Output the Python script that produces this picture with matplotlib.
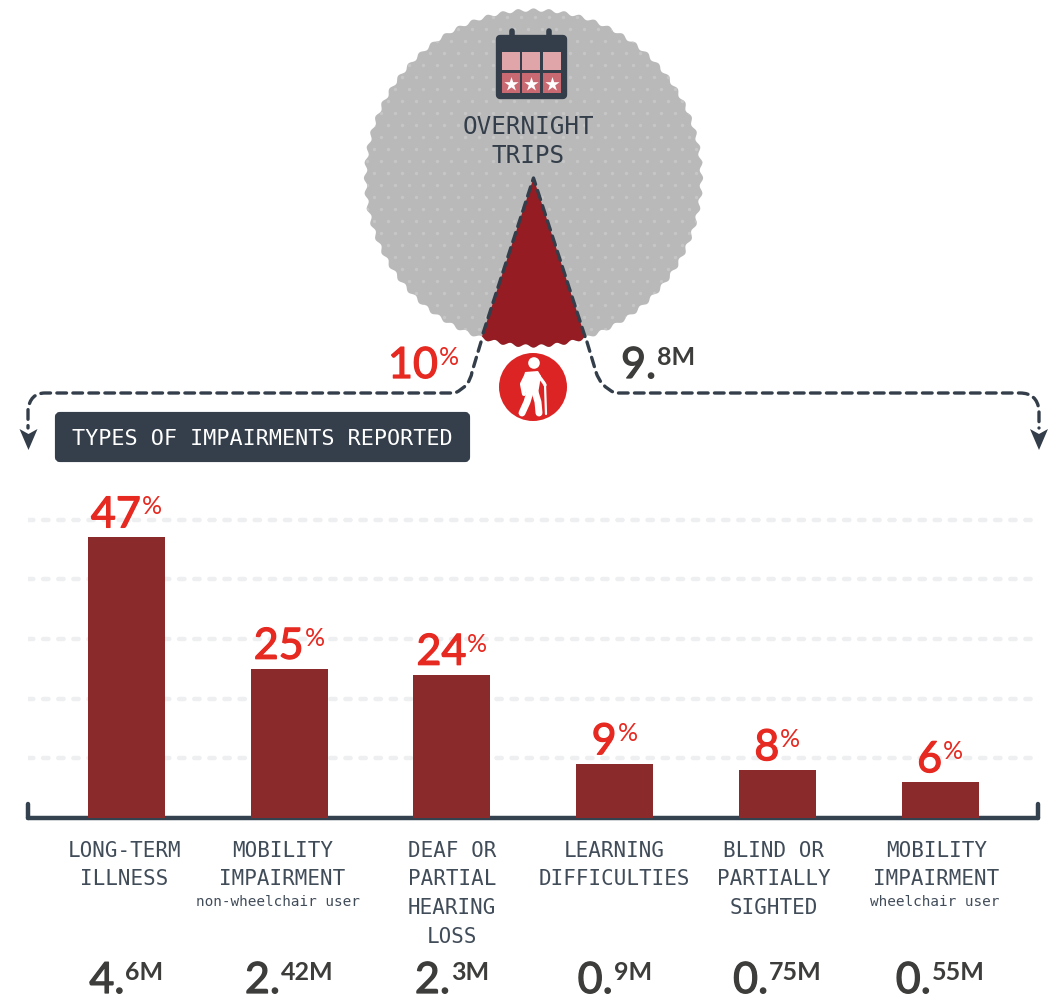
import numpy as np
import matplotlib
matplotlib.use('Agg')
import matplotlib.pyplot as plt
import matplotlib.patheffects as pe
from matplotlib.patches import Polygon, Circle, FancyBboxPatch, Rectangle, PathPatch
from matplotlib.path import Path

W, H = 1054, 996

# data
share = 10
share_m = ('9.', '8M')
categories = [
    ['LONG-TERM', 'ILLNESS'],
    ['MOBILITY', 'IMPAIRMENT'],
    ['DEAF OR', 'PARTIAL', 'HEARING', 'LOSS'],
    ['LEARNING', 'DIFFICULTIES'],
    ['BLIND OR', 'PARTIALLY', 'SIGHTED'],
    ['MOBILITY', 'IMPAIRMENT'],
]
sublabels = ['', 'non-wheelchair user', '', '', '', 'wheelchair user']
percents = [47, 25, 24, 9, 8, 6]
millions_big = ['4.', '2.', '2.', '0.', '0.', '0.']
millions_small = ['6M', '42M', '3M', '9M', '75M', '55M']
grid_ticks = [10, 20, 30, 40, 50]

# small sideways shifts of the label blocks
label_shift = [-2, -7, 0, 0, -4, -4]
sub_shift = [0, -11, 0, 0, 0, -5]

DARK = '#333e4a'
RED = '#e62a22'
BAR = '#8b2a2a'
WEDGE = '#951c22'
NUM = '#3d3d3b'
MONO = 'DejaVu Sans Mono'
NUMF = 'Lato'

fig = plt.figure(figsize=(W / 100, H / 100), dpi=100, facecolor='white')


def box(l, t, r, b):
    return [l / W, 1 - b / H, (r - l) / W, (b - t) / H]


# bar chart
ax = fig.add_axes(box(28, 500, 1037.5, 818))
x = np.arange(len(percents))
ax.bar(x, percents, width=0.473, color=BAR, zorder=3)
ax.set_xlim(-0.605, 5.598)
ax.set_ylim(0, 53.27)
ax.set_yticks(grid_ticks)
ax.set_xticks([])
ax.tick_params(left=False, labelleft=False)
ax.yaxis.grid(True, color='#eeeff0', lw=3.2, linestyle=(0, (1.2, 2.2)), dash_capstyle='round')
ax.set_axisbelow(True)
ax.patch.set_alpha(0)
ax.spines['top'].set_visible(False)
for s in ['left', 'right', 'bottom']:
    ax.spines[s].set_color('#34424f')
    ax.spines[s].set_linewidth(3.2)
    ax.spines[s].set_capstyle('round')
ax.spines['left'].set_bounds(0, 2.3)
ax.spines['right'].set_bounds(0, 2.3)

# overlay in pixel coordinates for the infographic parts
ov = fig.add_axes([0, 0, 1, 1])
ov.set_xlim(0, W)
ov.set_ylim(H, 0)
ov.axis('off')
ov.patch.set_alpha(0)

renderer = fig.canvas.get_renderer()


def thicken(t, color, w):
    t.set_path_effects([pe.withStroke(linewidth=w, foreground=color)])


def sup_text(x0, base, big, small, color, center=False, bigsize=31, smallsize=18, smallweight='bold'):
    # big figures with a raised small part after them
    t1 = ov.text(x0, base, big, fontsize=bigsize, color=color, family=NUMF,
                 ha='left', va='baseline', zorder=6)
    thicken(t1, color, 0.9)
    t2 = ov.text(x0, base - 13, small, fontsize=smallsize, color=color, family=NUMF, weight=smallweight,
                 ha='left', va='baseline', zorder=6)
    w1 = t1.get_window_extent(renderer).width
    w2 = t2.get_window_extent(renderer).width
    left = x0 - (w1 + w2 + 1) / 2 if center else x0
    t1.set_x(left)
    t2.set_x(left + w1 + 1)
    return t2


# scalloped circle
cx, cy, rad = 533.5, 178, 168
scallops = 68


def scallop(th):
    return rad + 1.6 * np.cos(scallops * th)


th = np.linspace(0, 2 * np.pi, 1500)
outline = np.column_stack([cx + scallop(th) * np.sin(th), cy - scallop(th) * np.cos(th)])
disc = Polygon(outline, closed=True, fc='#b9b9b9', ec='none', zorder=1)
ov.add_patch(disc)

gx, gy = np.meshgrid(np.arange(360, 710, 14), np.arange(5, 355, 12))
gx = gx + 7 * (np.round((gy - 5) / 12) % 2)
dots = ov.scatter(gx.ravel(), gy.ravel(), s=6, color='#c6c6c6', lw=0, zorder=2)
dots.set_clip_path(disc)

# wedge for the share, pointing down from the centre
half = np.deg2rad(share * 3.6 / 2)
a = np.linspace(np.pi - half, np.pi + half, 200)
arc = np.column_stack([cx + scallop(a) * np.sin(a), cy - scallop(a) * np.cos(a)])
ov.add_patch(Polygon(np.vstack([[cx, cy], arc]), closed=True, fc=WEDGE, ec='none', zorder=3))
dash = (0, (2.9, 1.9))
ov.plot([arc[0, 0], cx, arc[-1, 0]], [arc[0, 1], cy, arc[-1, 1]], color=DARK, lw=2.4,
        linestyle=dash, dash_capstyle='round', zorder=4)


def dashed(verts, codes):
    ov.add_patch(PathPatch(Path(verts, codes), fc='none', ec=DARK, lw=2.4, linestyle=dash,
                           capstyle='round', zorder=4))


M, L, C = Path.MOVETO, Path.LINETO, Path.CURVE3
dashed([(481, 342), (472, 372), (470, 386), (455, 393), (45, 393), (30, 393), (28, 410), (28, 428)],
       [M, L, C, C, L, C, C, L])
dashed([(587, 342), (596, 372), (600, 386), (615, 393), (1020, 393), (1037, 393), (1039, 410), (1039, 428)],
       [M, L, C, C, L, C, C, L])
for ax0 in [28.5, 1039]:
    ov.add_patch(Polygon([(ax0 - 9, 429), (ax0, 434), (ax0 + 9, 429), (ax0, 450)], closed=True,
                         fc=DARK, ec='none', zorder=4))

# calendar icon
ov.add_patch(FancyBboxPatch((500, 39), 63, 56, boxstyle='round,pad=0,rounding_size=0', fc=DARK, ec=DARK,
                            lw=6, joinstyle='round', zorder=4))
for px in [512, 549]:
    ov.plot([px, px], [31, 38], color=DARK, lw=4, solid_capstyle='round', zorder=4)
for cl, cr in [(502, 520), (522, 540), (543, 561)]:
    ov.add_patch(Rectangle((cl, 52), cr - cl, 18, fc='#e0a5a9', ec='none', zorder=5))
    ov.add_patch(Rectangle((cl, 73), cr - cl, 20, fc='#c96a72', ec='none', zorder=5))
    ov.scatter([(cl + cr) / 2], [83.5], marker='*', s=115, color='white', lw=0, zorder=6)

ov.text(528, 126.5, 'OVERNIGHT', family=MONO, fontsize=17.5, color=DARK, ha='center', va='center', zorder=6)
ov.text(528, 155.5, 'TRIPS', family=MONO, fontsize=17.5, color=DARK, ha='center', va='center', zorder=6)

# share labels
sup_text(388, 378, '10', '%', RED, smallweight='normal')
sup_text(621, 378, share_m[0], share_m[1], NUM)

# person badge
ov.add_patch(Circle((533, 387), 34, fc='#dd2424', ec='none', zorder=4))
ov.add_patch(Circle((534, 363), 5.8, fc='white', ec='none', zorder=5))
ov.add_patch(Polygon([(525, 372), (538, 371), (541, 376), (538, 394), (526, 394), (522, 384)], closed=True,
                     fc='white', ec='none', zorder=5))
for xs, ys, lw in [([526, 522, 524], [376, 384, 394], 3),
                   ([538, 544, 545], [375, 383, 385], 2.4),
                   ([530, 527, 522], [392, 402, 413], 5),
                   ([535, 538, 539], [392, 402, 413], 5),
                   ([545, 546], [384, 414], 1.6)]:
    ov.plot(xs, ys, color='white', lw=lw, solid_capstyle='round', zorder=5)

# banner
ov.add_patch(FancyBboxPatch((57, 414), 411, 46, boxstyle='round,pad=0,rounding_size=3', fc='#343f4b', ec='#343f4b',
                            lw=3, zorder=4))
ov.text(262, 438.5, 'TYPES OF IMPAIRMENTS REPORTED', family=MONO, fontsize=15.7, color='white',
        ha='center', va='center', zorder=6)

# per bar labels, positions through the bar axes
to_px = lambda xv, yv: ov.transData.inverted().transform(ax.transData.transform((xv, yv)))
for i, p in enumerate(percents):
    px, py = to_px(i, p)
    sup_text(px, py - 10, str(p), '%', RED, center=True, smallweight='normal')
    for j, line in enumerate(categories[i]):
        ov.text(px + label_shift[i], 850.5 + j * 28.7, line, family=MONO, fontsize=15, color='#414c59',
                ha='center', va='center', zorder=6)
    if sublabels[i]:
        ov.text(px + sub_shift[i], 902, sublabels[i], family=MONO, fontsize=10.4, color='#414c59',
                ha='center', va='center', zorder=6)
    sup_text(px, 993, millions_big[i], millions_small[i], NUM, center=True)

fig.savefig('out.png', dpi=100)
